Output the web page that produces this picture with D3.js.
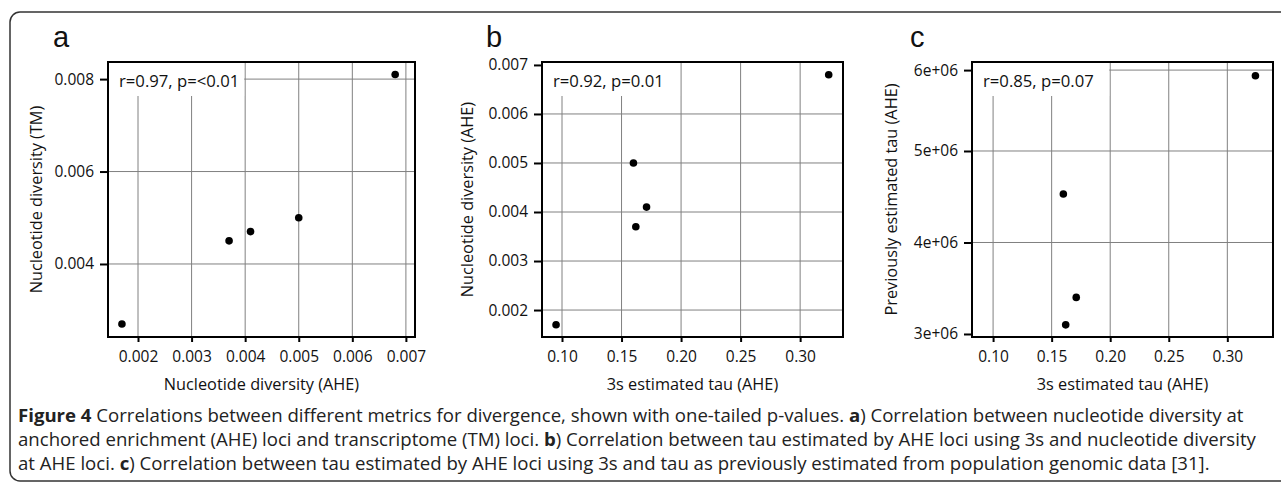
<!DOCTYPE html>
<html>
<head>
<meta charset="utf-8">
<script src="https://cdn.jsdelivr.net/npm/d3@7"></script>
<style>
  body { margin: 0; background: #fff; }
  svg { display: block; font-family: "Open Sans", sans-serif; }
</style>
</head>
<body>
<div id="container"></div>
<script>
/* DATA */
const aheDiversity = [0.0017, 0.0037, 0.0041, 0.0050, 0.0068];   // nucleotide diversity (AHE)
const tmDiversity  = [0.0027, 0.0045, 0.0047, 0.0050, 0.0081];   // nucleotide diversity (TM)
const tau3s        = [0.095, 0.162, 0.171, 0.160, 0.324];        // 3s estimated tau (AHE)
const prevTau      = [null, 3.1e6, 3.4e6, 4.53e6, 5.93e6];       // previously estimated tau

const ticksDiv1 = [0.002, 0.003, 0.004, 0.005, 0.006, 0.007];
const ticksDiv2 = [0.004, 0.006, 0.008];
const ticksDiv3 = [0.002, 0.003, 0.004, 0.005, 0.006, 0.007];
const ticksTau  = [0.10, 0.15, 0.20, 0.25, 0.30];
const ticksPrev = [3e6, 4e6, 5e6, 6e6];

const panelLetters = ["a", "b", "c"];
const corrLabels = ["r=0.97, p=<0.01", "r=0.92, p=0.01", "r=0.85, p=0.07"];
const xTitles = ["Nucleotide diversity (AHE)", "3s estimated tau (AHE)", "3s estimated tau (AHE)"];
const yTitles = ["Nucleotide diversity (TM)", "Nucleotide diversity (AHE)", "Previously estimated tau (AHE)"];

/* CONSTANTS */
const width = 1281, height = 487;
const plotTop = 62, plotBottom = 337;
const plotH = plotBottom - plotTop;

const svg = d3.select("#container").append("svg")
  .attr("width", width)
  .attr("height", height);

// outer frame (right side runs off the page)
svg.append("rect")
  .attr("x", 10).attr("y", 12)
  .attr("width", 1300).attr("height", 469)
  .attr("rx", 10)
  .attr("fill", "none")
  .attr("stroke", "#333")
  .attr("stroke-width", 1.5);

const fmt3 = d3.format(".3f");
const fmt2 = d3.format(".2f");

const panels = [
  {
    left: 108, right: 415,
    x: d3.scaleLinear().domain([0.00144, 0.00717]),
    y: d3.scaleLinear().domain([0.00242, 0.00837]).range([plotH, 0]),
    xTicks: ticksDiv1, yTicks: ticksDiv2, xFmt: fmt3, yFmt: fmt3,
    pts: aheDiversity.map((d, i) => ({ x: d, y: tmDiversity[i] })),
    letterX: 53, yTitleX: 37
  },
  {
    left: 542, right: 843,
    x: d3.scaleLinear().domain([0.0832, 0.336]),
    y: d3.scaleLinear().domain([0.00145, 0.00706]).range([plotH, 0]),
    xTicks: ticksTau, yTicks: ticksDiv3, xFmt: fmt2, yFmt: fmt3,
    pts: tau3s.map((d, i) => ({ x: d, y: aheDiversity[i] })),
    letterX: 486, yTitleX: 468
  },
  {
    left: 972, right: 1273,
    x: d3.scaleLinear().domain([0.082, 0.339]),
    // the published axis is not evenly spaced above 5e+06
    y: d3.scaleLinear().domain([2.967e6, 5e6, 6.1e6]).range([plotH, plotH * 0.3236, 0]),
    xTicks: ticksTau, yTicks: ticksPrev, xFmt: fmt2, yFmt: d => (d / 1e6) + "e+06",
    pts: tau3s.map((d, i) => ({ x: d, y: prevTau[i] })).filter(d => d.y !== null),
    letterX: 910, yTitleX: 892
  }
];

panels.forEach((p, i) => {
  const w = p.right - p.left;
  p.x.range([0, w]);
  const g = svg.append("g").attr("transform", `translate(${p.left},${plotTop})`);

  // grid (lines sitting on the frame merge into it)
  g.selectAll(".vgrid").data(p.xTicks).join("line")
    .attr("x1", d => p.x(d)).attr("x2", d => p.x(d))
    .attr("y1", 0).attr("y2", plotH)
    .attr("stroke", "#808080").attr("stroke-width", 1);
  g.selectAll(".hgrid").data(p.yTicks.filter(d => p.y(d) > 4 && p.y(d) < plotH - 4)).join("line")
    .attr("y1", d => p.y(d)).attr("y2", d => p.y(d))
    .attr("x1", 0).attr("x2", w)
    .attr("stroke", "#808080").attr("stroke-width", 1);

  // label with white backing
  const lbl = g.append("text")
    .attr("x", 11).attr("y", 25)
    .attr("font-size", 16.7)
    .attr("fill", "#111")
    .text(corrLabels[i]);
  const tw = lbl.node().getComputedTextLength();
  const nextTick = p.xTicks.find(t => p.x(t) > 11 + tw + 2);
  g.insert("rect", "text")
    .attr("x", 0).attr("y", 0)
    .attr("width", p.x(nextTick) - 1)
    .attr("height", 34)
    .attr("fill", "#fff");

  // points
  g.selectAll("circle").data(p.pts).join("circle")
    .attr("cx", d => p.x(d.x))
    .attr("cy", d => p.y(d.y))
    .attr("r", 3.8)
    .attr("fill", "#000");

  // box
  g.append("rect")
    .attr("width", w).attr("height", plotH)
    .attr("fill", "none")
    .attr("stroke", "#000").attr("stroke-width", 2);

  // axes
  const yAxis = d3.axisLeft(p.y).tickValues(p.yTicks).tickFormat(p.yFmt)
    .tickSize(8).tickPadding(6);
  g.append("g").call(yAxis)
    .call(s => s.select(".domain").remove())
    .call(s => s.selectAll(".tick line").attr("stroke", "#000").attr("stroke-width", 2))
    .call(s => s.selectAll(".tick text").attr("font-size", 15.5).attr("fill", "#111")
      .attr("font-family", "'Open Sans', sans-serif"));

  const xAxis = d3.axisBottom(p.x).tickValues(p.xTicks).tickFormat(p.xFmt)
    .tickSize(5).tickPadding(9);
  g.append("g").attr("transform", `translate(0,${plotH})`).call(xAxis)
    .call(s => s.select(".domain").remove())
    .call(s => s.selectAll(".tick line").attr("stroke", "#000").attr("stroke-width", 2))
    .call(s => s.selectAll(".tick text").attr("font-size", 15.5).attr("fill", "#111")
      .attr("font-family", "'Open Sans', sans-serif"));

  // titles
  svg.append("text")
    .attr("x", p.left + w / 2).attr("y", 390)
    .attr("text-anchor", "middle")
    .attr("font-size", 16.3).attr("fill", "#111")
    .text(xTitles[i]);
  svg.append("text")
    .attr("transform", `translate(${p.yTitleX + 5},${plotTop + plotH / 2}) rotate(-90)`)
    .attr("text-anchor", "middle")
    .attr("font-size", 16.3).attr("fill", "#111")
    .text(yTitles[i]);

  // panel letter
  svg.append("text")
    .attr("x", p.letterX).attr("y", 47)
    .attr("font-family", "'Liberation Sans', Arial, sans-serif")
    .attr("font-size", 29).attr("fill", "#111")
    .text(panelLetters[i]);
});

/* CAPTION */
const captionLines = [
  [["Figure 4", true], [" Correlations between different metrics for divergence, shown with one-tailed p-values. ", false], ["a", true], [") Correlation between nucleotide diversity at", false]],
  [["anchored enrichment (AHE) loci and transcriptome (TM) loci. ", false], ["b", true], [") Correlation between tau estimated by AHE loci using 3s and nucleotide diversity", false]],
  [["at AHE loci. ", false], ["c", true], [") Correlation between tau estimated by AHE loci using 3s and tau as previously estimated from population genomic data [31].", false]]
];

const cap = svg.append("text")
  .attr("font-size", 18.6)
  .attr("fill", "#222");
captionLines.forEach((line, li) => {
  line.forEach((seg, si) => {
    const t = cap.append("tspan")
      .attr("font-weight", seg[1] ? 700 : 400)
      .text(seg[0]);
    if (si === 0) t.attr("x", 18).attr("y", 422 + li * 24);
  });
});
</script>
</body>
</html>
